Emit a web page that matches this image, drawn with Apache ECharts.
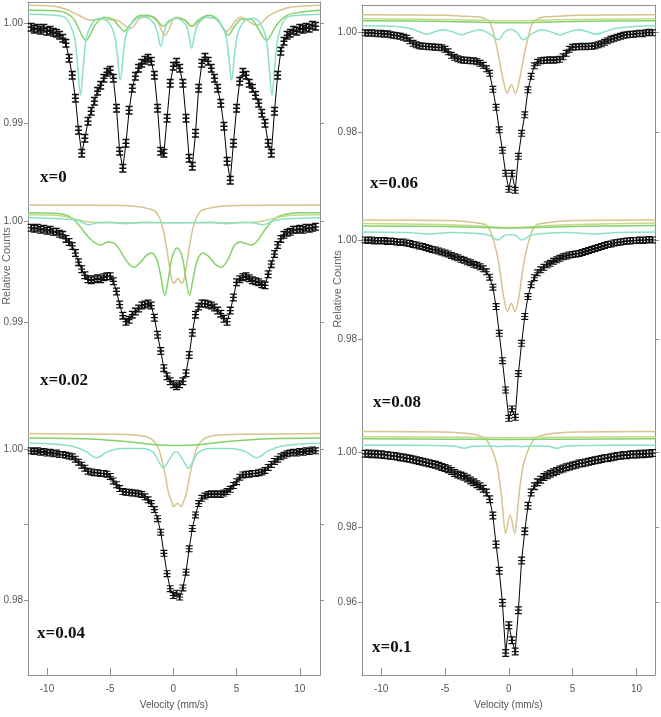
<!DOCTYPE html>
<html>
<head>
<meta charset="utf-8">
<script src="https://cdn.jsdelivr.net/npm/echarts@6/dist/echarts.min.js"></script>
<style>
  html, body { margin: 0; padding: 0; background: #fff; }
  #chart { width: 661px; height: 717px; }
</style>
</head>
<body>
<div id="chart"></div>
<script>
  // velocity channels (mm/s), shared by all six spectra
  const velocity = [-11.25,-11,-10.75,-10.5,-10.25,-10,-9.75,-9.5,-9.25,-9,
    -8.75,-8.5,-8.25,-8,-7.75,-7.5,-7.25,-7,-6.75,-6.5,
    -6.25,-6,-5.75,-5.5,-5.25,-5,-4.75,-4.5,-4.25,-4,
    -3.75,-3.5,-3.25,-3,-2.75,-2.5,-2.25,-2,-1.75,-1.5,
    -1.25,-1,-0.75,-0.5,-0.25,0,0.25,0.5,0.75,1,
    1.25,1.5,1.75,2,2.25,2.5,2.75,3,3.25,3.5,
    3.75,4,4.25,4.5,4.75,5,5.25,5.5,5.75,6,
    6.25,6.5,6.75,7,7.25,7.5,7.75,8,8.25,8.5,
    8.75,9,9.25,9.5,9.75,10,10.25,10.5,10.75,11,11.25];

  // relative counts, measured spectra
  const counts0 = [0.9996,0.9994,0.9995,0.9993,0.9995,0.9992,0.9993,0.9991,0.9990,0.9988,
    0.9985,0.9980,0.9965,0.9948,0.9925,0.9893,0.9870,0.9885,0.9902,0.9912,
    0.9922,0.9932,0.9938,0.9945,0.9951,0.9953,0.9945,0.9915,0.9872,0.9855,
    0.9880,0.9913,0.9935,0.9947,0.9955,0.9960,0.9963,0.9965,0.9962,0.9948,
    0.9915,0.9872,0.9870,0.9905,0.9940,0.9957,0.9961,0.9955,0.9940,0.9905,
    0.9865,0.9857,0.9890,0.9935,0.9960,0.9966,0.9962,0.9955,0.9945,0.9935,
    0.9920,0.9897,0.9862,0.9843,0.9880,0.9915,0.9942,0.9951,0.9948,0.9940,
    0.9935,0.9928,0.9920,0.9910,0.9900,0.9880,0.9870,0.9912,0.9948,0.9972,
    0.9982,0.9988,0.9990,0.9993,0.9992,0.9995,0.9994,0.9996,0.9995,0.9998,0.9997];
  const counts002 = [0.9994,0.9993,0.9994,0.9992,0.9993,0.9991,0.9992,0.9990,0.9990,0.9988,
    0.9987,0.9983,0.9980,0.9976,0.9969,0.9960,0.9953,0.9947,0.9943,0.9942,
    0.9943,0.9944,0.9943,0.9945,0.9946,0.9946,0.9941,0.9931,0.9918,0.9907,
    0.9901,0.9903,0.9908,0.9911,0.9914,0.9917,0.9918,0.9919,0.9917,0.9905,
    0.9888,0.9872,0.9855,0.9847,0.9842,0.9839,0.9837,0.9839,0.9842,0.9850,
    0.9868,0.9890,0.9908,0.9916,0.9919,0.9919,0.9918,0.9917,0.9915,0.9912,
    0.9909,0.9904,0.9901,0.9912,0.9925,0.9940,0.9943,0.9945,0.9946,0.9944,
    0.9942,0.9941,0.9940,0.9938,0.9937,0.9948,0.9958,0.9968,0.9977,0.9983,
    0.9987,0.9989,0.9990,0.9992,0.9992,0.9993,0.9992,0.9994,0.9993,0.9994,0.9995];
  const counts004 = [0.9998,0.9997,0.9998,0.9996,0.9997,0.9995,0.9996,0.9994,0.9995,0.9993,
    0.9993,0.9992,0.9991,0.9990,0.9987,0.9983,0.9979,0.9975,0.9971,0.9970,
    0.9969,0.9969,0.9968,0.9968,0.9967,0.9964,0.9958,0.9953,0.9948,0.9944,
    0.9943,0.9943,0.9942,0.9942,0.9941,0.9940,0.9937,0.9933,0.9928,0.9920,
    0.9908,0.9890,0.9862,0.9835,0.9815,0.9806,0.9809,0.9804,0.9816,0.9837,
    0.9868,0.9895,0.9913,0.9928,0.9935,0.9938,0.9940,0.9941,0.9940,0.9941,
    0.9940,0.9942,0.9944,0.9947,0.9952,0.9957,0.9963,0.9966,0.9967,0.9967,
    0.9968,0.9968,0.9969,0.9970,0.9972,0.9976,0.9980,0.9984,0.9987,0.9990,
    0.9992,0.9994,0.9995,0.9996,0.9995,0.9997,0.9996,0.9998,0.9997,0.9999,0.9998];
  const counts006 = [0.9999,0.9998,0.9999,0.9998,0.9997,0.9998,0.9996,0.9997,0.9995,0.9994,
    0.9993,0.9992,0.9990,0.9988,0.9983,0.9978,0.9975,0.9973,0.9972,0.9972,
    0.9971,0.9971,0.9970,0.9970,0.9969,0.9966,0.9961,0.9954,0.9950,0.9947,
    0.9945,0.9944,0.9944,0.9943,0.9943,0.9941,0.9938,0.9934,0.9927,0.9918,
    0.9886,0.9850,0.9805,0.9764,0.9718,0.9686,0.9718,0.9684,0.9752,0.9798,
    0.9835,0.9885,0.9912,0.9933,0.9940,0.9943,0.9944,0.9944,0.9945,0.9944,
    0.9945,0.9946,0.9951,0.9958,0.9966,0.9970,0.9971,0.9971,0.9972,0.9971,
    0.9972,0.9972,0.9973,0.9975,0.9977,0.9980,0.9983,0.9986,0.9988,0.9990,
    0.9992,0.9994,0.9995,0.9996,0.9996,0.9997,0.9998,0.9997,0.9999,1.0000,0.9999];
  const counts008 = [1.0000,0.9999,1.0000,0.9998,0.9999,0.9998,0.9999,0.9997,0.9998,0.9997,
    0.9996,0.9995,0.9996,0.9994,0.9993,0.9991,0.9990,0.9988,0.9987,0.9985,
    0.9983,0.9981,0.9980,0.9978,0.9976,0.9974,0.9972,0.9969,0.9966,0.9964,
    0.9961,0.9959,0.9956,0.9954,0.9951,0.9949,0.9946,0.9942,0.9936,0.9925,
    0.9905,0.9866,0.9812,0.9757,0.9698,0.9641,0.9660,0.9643,0.9731,0.9792,
    0.9846,0.9886,0.9910,0.9924,0.9934,0.9940,0.9945,0.9950,0.9953,0.9957,
    0.9960,0.9963,0.9966,0.9968,0.9970,0.9971,0.9972,0.9973,0.9975,0.9977,
    0.9979,0.9981,0.9983,0.9985,0.9987,0.9989,0.9991,0.9992,0.9994,0.9995,
    0.9996,0.9997,0.9998,0.9998,0.9999,0.9999,1.0000,0.9999,1.0000,1.0001,1.0000];
  const counts01 = [0.9996,0.9997,0.9995,0.9996,0.9994,0.9995,0.9993,0.9992,0.9991,0.9990,
    0.9989,0.9987,0.9986,0.9984,0.9983,0.9981,0.9979,0.9977,0.9975,0.9973,
    0.9971,0.9969,0.9967,0.9964,0.9961,0.9958,0.9955,0.9950,0.9945,0.9941,
    0.9938,0.9935,0.9930,0.9925,0.9920,0.9915,0.9910,0.9903,0.9893,0.9875,
    0.9832,0.9755,0.9685,0.9600,0.9466,0.9540,0.9500,0.9470,0.9580,0.9712,
    0.9790,0.9858,0.9893,0.9910,0.9920,0.9927,0.9934,0.9939,0.9943,0.9947,
    0.9950,0.9954,0.9957,0.9960,0.9962,0.9965,0.9967,0.9970,0.9971,0.9973,
    0.9975,0.9977,0.9979,0.9980,0.9982,0.9984,0.9985,0.9987,0.9988,0.9990,
    0.9991,0.9993,0.9992,0.9994,0.9995,0.9994,0.9996,0.9995,0.9997,0.9996,0.9998];

  // fitted sub-spectra, [velocity, relative counts]
  const tan0 = [[-11.5,1.0018],[-9.5,1.0017],[-8.5,1.0014],[-7.5,1.0008],[-6.5,1.0003],[-5.8,1.0004],[-4.5,1.0003],
    [-3.4,0.9995],[-2.4,1.0007],[-1.5,1.0006],[-0.66,0.9988],[0.2,1.0006],[0.8,1.0004],[1.45,0.9997],[2.5,1.0006],
    [3.4,1.0004],[4.2,0.9992],[5.3,1.0006],[6.6,0.9998],[7.6,1.0008],[8.9,1.0015],[10,1.0017],[11.6,1.0018]];
  const green0 = [[-11.5,1.0013],[-9,1.0012],[-8,1.0006],[-7.5,0.9995],[-7.2,0.9987],[-6.9,0.9983],[-6.6,0.9988],
    [-6.2,0.9998],[-5.5,1.0006],[-4.8,1.0004],[-4.3,0.9997],[-3.87,0.9992],[-3.45,0.9998],[-2.8,1.0007],[-2,1.0008],
    [-1.3,1.0003],[-0.8,0.9997],[-0.3,1.0003],[0.3,1.0005],[0.95,1.0003],[1.45,0.9997],[1.95,1.0003],[2.8,1.0008],
    [3.5,1.0004],[3.95,0.9995],[4.35,0.9988],[4.75,0.9995],[5.4,1.0004],[6.1,1.0004],[6.7,0.9995],[7.05,0.9987],
    [7.37,0.9983],[7.7,0.9988],[8.2,0.9999],[9,1.0008],[10,1.0011],[11.6,1.0013]];
  const cyan0 = [[-11.5,1.0009],[-9.5,1.0008],[-8.5,1.0005],[-7.85,0.9987],[-7.6,0.9961],[-7.35,0.9928],[-7.1,0.9961],
    [-6.85,0.9987],[-6.3,1.0002],[-5.8,1.0005],[-5.2,1.0002],[-4.7,0.9990],[-4.45,0.9970],[-4.2,0.9943],[-3.95,0.9970],
    [-3.7,0.9990],[-3,1.0004],[-2.2,1.0006],[-1.5,0.9999],[-1.25,0.9990],[-1,0.9977],[-0.75,0.9990],[-0.5,0.9999],
    [0.22,1.0005],[0.95,0.9999],[1.2,0.9990],[1.45,0.9975],[1.7,0.9990],[1.95,0.9999],[2.6,1.0006],[3.4,1.0004],
    [4.1,0.9990],[4.35,0.9970],[4.6,0.9943],[4.85,0.9970],[5.1,0.9990],[5.6,1.0002],[6.2,1.0005],[6.75,1.0002],
    [7.3,0.9987],[7.55,0.9961],[7.8,0.9928],[8.05,0.9961],[8.3,0.9987],[8.9,1.0005],[10,1.0008],[11.6,1.0009]];

  const tan002 = [[-11.5,1.00165],[-4,1.0016],[-2.9,1.0015],[-2,1.0013],[-1.5,1.0011],[-1.1,1.0004],[-0.8,0.9992],
    [-0.55,0.9975],[-0.3,0.9955],[-0.1,0.9942],[0.06,0.9939],[0.36,0.9944],[0.66,0.9939],[0.82,0.9942],[1.02,0.9955],
    [1.27,0.9975],[1.52,0.9992],[1.82,1.0004],[2.2,1.0011],[2.7,1.0013],[3.6,1.0015],[5,1.0016],[11.6,1.00165]];
  const green002 = [[-11.5,1.0009],[-9,1.0008],[-8.2,1.0005],[-7.5,0.9997],[-6.8,0.9986],[-6.2,0.9979],[-5.7,0.9977],
    [-5.2,0.9980],[-4.6,0.9978],[-4,0.9967],[-3.5,0.9958],[-3.1,0.9955],[-2.6,0.9960],[-2.1,0.9967],[-1.7,0.9969],
    [-1.3,0.9962],[-0.95,0.9943],[-0.68,0.9927],[-0.4,0.9943],[-0.1,0.9965],[0.3,0.9974],[0.7,0.9965],[1,0.9943],
    [1.27,0.9927],[1.55,0.9943],[1.9,0.9962],[2.35,0.9969],[2.85,0.9965],[3.3,0.9958],[3.78,0.9955],[4.3,0.9962],
    [4.8,0.9976],[5.3,0.9980],[5.8,0.9978],[6.2,0.9977],[6.7,0.9982],[7.3,0.9993],[8,1.0003],[8.7,1.0007],[10,1.0009],[11.6,1.0009]];
  const olive002 = [[-11.5,1.0007],[-9,1.0006],[-7.5,1.0002],[-6.5,0.99995],[-4,0.9999],[0,0.9999],[4,0.9999],
    [6.5,0.99995],[7.5,1.0002],[9,1.0006],[11.6,1.0007]];
  const cyan002 = [[-11.5,1.0004],[-9,1.0003],[-7.5,1.0001],[-6.7,0.9997],[-6,0.9999],[-5,0.99995],[-3.8,0.9998],
    [-2.5,0.99995],[0.3,0.9999],[3,0.99995],[4.2,0.9998],[5.5,0.99995],[6.3,0.9999],[7.1,0.9997],[7.9,1.0001],
    [9,1.0003],[11.6,1.0004]];

  const tan004 = [[-11.5,1.0021],[-5,1.0020],[-3,1.0019],[-2,1.0016],[-1.5,1.0010],[-1.2,1.0002],[-0.9,0.9985],
    [-0.6,0.9962],[-0.35,0.9940],[-0.1,0.9929],[0,0.9924],[0.33,0.9928],[0.66,0.9924],[0.76,0.9929],[1.01,0.9940],
    [1.26,0.9962],[1.56,0.9985],[1.86,1.0002],[2.16,1.0010],[2.66,1.0016],[3.7,1.0019],[6,1.0020],[11.6,1.0021]];
  const green004 = [[-11.5,1.0015],[-7,1.0014],[-5,1.0012],[-3,1.0009],[-1.5,1.0006],[0.3,1.0005],[2,1.0006],
    [3.5,1.0009],[5.5,1.0012],[7.5,1.0014],[11.6,1.0015]];
  const cyan004 = [[-11.5,1.0008],[-9.5,1.0007],[-8,1.0004],[-7,0.9998],[-6.05,0.9989],[-5.2,0.9997],[-4,1.0001],
    [-2.5,1.0001],[-1.6,0.9996],[-1.1,0.9982],[-0.79,0.9975],[-0.45,0.9983],[0.2,0.9997],[0.85,0.9983],[1.18,0.9975],
    [1.5,0.9982],[2,0.9996],[3,1.0001],[4.5,1.0001],[5.7,0.9997],[6.6,0.9989],[7.5,0.9998],[8.5,1.0004],[10,1.0007],[11.6,1.0008]];

  const tan006 = [[-11.5,1.0035],[-5,1.0034],[-3.4,1.0032],[-2.2,1.0030],[-1.8,1.0026],[-1.5,1.0021],[-1.2,0.9998],
    [-0.84,0.9958],[-0.6,0.9925],[-0.4,0.9900],[-0.13,0.9878],[0.2,0.9895],[0.52,0.9878],[0.79,0.9900],[0.99,0.9925],
    [1.23,0.9958],[1.59,0.9998],[1.89,1.0021],[2.19,1.0026],[2.6,1.0030],[3.8,1.0032],[5.4,1.0034],[11.5,1.0035]];
  const olive006 = [[-11.5,1.0027],[-4,1.0025],[0.2,1.0023],[4,1.0025],[11.5,1.0027]];
  const green006 = [[-11.5,1.0023],[-6,1.0022],[-2,1.0020],[0.2,1.0019],[2.5,1.0020],[6,1.0022],[11.5,1.0023]];
  const cyan006 = [[-11.5,1.0013],[-9,1.0012],[-7.8,1.0008],[-7,1.0001],[-6.44,0.9996],[-5.8,1.0001],[-5.1,1.0005],
    [-4.3,1.0000],[-3.7,0.9995],[-3.1,1.0000],[-2.3,1.0005],[-1.5,0.9997],[-0.84,0.9985],[-0.35,1.0000],[0.14,1.0006],
    [0.63,1.0000],[1.12,0.9985],[1.8,0.9997],[2.6,1.0005],[3.4,1.0000],[4,0.9995],[4.6,1.0000],[5.4,1.0005],
    [6.2,1.0001],[6.8,0.9996],[7.5,1.0001],[8.4,1.0008],[10,1.0012],[11.5,1.0013]];

  const tan008 = [[-11.5,1.0040],[-5,1.0039],[-3.4,1.0037],[-2.2,1.0033],[-1.75,1.0030],[-1.4,1.0015],[-1.1,0.9990],
    [-0.84,0.9960],[-0.6,0.9920],[-0.4,0.9885],[-0.1,0.9856],[0.19,0.9872],[0.47,0.9856],[0.78,0.9885],[0.98,0.9920],
    [1.22,0.9960],[1.48,0.9990],[1.78,1.0015],[2.13,1.0030],[2.6,1.0033],[3.8,1.0037],[5.4,1.0039],[11.5,1.0040]];
  const olive008 = [[-11.5,1.0033],[-4,1.0030],[0.2,1.0025],[4,1.0030],[11.5,1.0034]];
  const green008 = [[-11.5,1.0028],[-5,1.0027],[0.2,1.0024],[5,1.0027],[11.5,1.0029]];
  const cyan008 = [[-11.5,1.0016],[-8,1.0015],[-6.3,1.0012],[-4.5,1.0015],[-2.5,1.0013],[-1.5,1.0009],[-0.84,1.0000],
    [-0.4,1.0008],[0.1,1.0011],[0.6,1.0008],[1,1.0000],[1.7,1.0009],[2.7,1.0013],[4.7,1.0015],[6.7,1.0012],
    [8.5,1.0015],[11.5,1.0016]];

  const tan01 = [[-11.5,1.0055],[-5,1.0054],[-3.2,1.0050],[-2.2,1.0043],[-1.75,1.0033],[-1.35,1.0010],[-0.96,0.9971],
    [-0.75,0.9930],[-0.57,0.9882],[-0.4,0.9820],[-0.26,0.9785],[0.1,0.9833],[0.47,0.9785],[0.61,0.9820],[0.78,0.9882],
    [0.96,0.9930],[1.17,0.9971],[1.56,1.0010],[1.96,1.0033],[2.4,1.0043],[3.4,1.0050],[5.2,1.0054],[11.5,1.0055]];
  const olive01 = [[-11.5,1.0041],[-4,1.0040],[0.1,1.0039],[4,1.0040],[11.5,1.0041]];
  const green01 = [[-11.5,1.0036],[-5,1.0035],[0.1,1.0034],[5,1.0035],[11.5,1.0036]];
  const cyan01 = [[-11.5,1.0019],[-6,1.0018],[-4.2,1.0016],[-3.5,1.0011],[-2.8,1.0016],[-1.5,1.0017],[-0.8,1.0015],
    [0.1,1.0017],[1,1.0015],[1.8,1.0017],[3.1,1.0016],[3.75,1.0011],[4.4,1.0016],[6.3,1.0018],[11.5,1.0019]];

  const colors = {tan: '#d9c38e', olive: '#c4da8a', green: '#84d26a', cyan: '#8ae2c8'};
  const axisColor = '#8a9099';
  const labelFont = 'Liberation Sans Narrow, Liberation Sans, sans-serif';

  const panels = [
    {label: 'x=0', counts: counts0, comps: [['tan', tan0], ['green', green0], ['cyan', cyan0]],
      box: [28, 2, 292, 195], xr: [-11.5, 11.6], yr: [0.98263, 1.00213], ticks: [0.99, 1.00], labels: [0.99, 1.00],
      bar: [7, 9], top: true, text: [40, 169]},
    {label: 'x=0.02', counts: counts002, comps: [['tan', tan002], ['green', green002], ['olive', olive002], ['cyan', cyan002]],
      box: [28, 197, 292, 228], xr: [-11.5, 11.6], yr: [0.97987, 1.00245], ticks: [0.99, 1.00], labels: [0.99, 1.00],
      bar: [7, 8], text: [40, 372]},
    {label: 'x=0.04', counts: counts004, comps: [['tan', tan004], ['green', green004], ['cyan', cyan004]],
      box: [28, 425, 292, 250], xr: [-11.5, 11.6], yr: [0.97005, 1.00323], ticks: [0.98, 0.99, 1.00], labels: [0.98, 1.00],
      bar: [7, 7], bottom: true, text: [37, 625]},
    {label: 'x=0.06', counts: counts006, comps: [['tan', tan006], ['olive', olive006], ['green', green006], ['cyan', cyan006]],
      box: [362, 5, 293, 210], xr: [-11.5, 11.45], yr: [0.96346, 1.00546], ticks: [0.98, 1.00], labels: [0.98, 1.00],
      bar: [7, 7], top: true, text: [370, 175]},
    {label: 'x=0.08', counts: counts008, comps: [['tan', tan008], ['olive', olive008], ['green', green008], ['cyan', cyan008]],
      box: [362, 215, 293, 213], xr: [-11.5, 11.45], yr: [0.96215, 1.00503], ticks: [0.98, 1.00], labels: [0.98, 1.00],
      bar: [7, 7], text: [373, 394]},
    {label: 'x=0.1', counts: counts01, comps: [['tan', tan01], ['olive', olive01], ['green', green01], ['cyan', cyan01]],
      box: [362, 428, 293, 247], xr: [-11.5, 11.45], yr: [0.94077, 1.00646], ticks: [0.96, 0.98, 1.00], labels: [0.96, 0.98, 1.00],
      bar: [7, 8], bottom: true, text: [372, 639]}
  ];

  // error bar marker: vertical bar with caps and a centre cross
  const errBar = 'path://M0 0H6V1.6H0Z M2.2 0H3.8V10H2.2Z M0 8.4H6V10H0Z M0 4.2H6V5.8H0Z';

  const grid = [], xAxis = [], yAxis = [], series = [], graphic = [];

  panels.forEach(function (p, i) {
    grid.push({left: p.box[0], top: p.box[1], width: p.box[2], height: p.box[3], outerBoundsMode: 'none'});
    const xi = xAxis.length;
    xAxis.push({
      gridIndex: i, type: 'value', min: p.xr[0], max: p.xr[1], position: 'bottom', show: !!p.bottom,
      axisLine: {show: true, onZero: false, lineStyle: {color: axisColor, width: 1}},
      axisTick: {show: true, inside: true, length: 7, customValues: [-10, -5, 0, 5, 10], lineStyle: {color: axisColor}},
      axisLabel: {customValues: [-10, -5, 0, 5, 10], margin: 9, fontSize: 10, color: '#555', fontFamily: labelFont},
      splitLine: {show: false},
      name: 'Velocity (mm/s)', nameLocation: 'middle', nameGap: 25,
      nameTextStyle: {fontSize: 10, color: '#555', fontFamily: labelFont}
    });
    if (p.top) {
      xAxis.push({
        gridIndex: i, type: 'value', min: p.xr[0], max: p.xr[1], position: 'top',
        axisLine: {show: true, onZero: false, lineStyle: {color: axisColor}}, axisTick: {show: false},
        axisLabel: {show: false}, splitLine: {show: false}
      });
    }
    const yi = yAxis.length;
    yAxis.push({
      gridIndex: i, type: 'value', min: p.yr[0], max: p.yr[1], position: 'left',
      axisLine: {show: true, onZero: false, lineStyle: {color: axisColor}},
      axisTick: {show: true, length: 4, customValues: p.ticks, lineStyle: {color: axisColor}},
      axisLabel: {customValues: p.labels, margin: 5, fontSize: 10, color: '#555', fontFamily: labelFont,
        formatter: function (v) { return v.toFixed(2); }},
      splitLine: {show: false}
    });
    yAxis.push({
      gridIndex: i, type: 'value', min: p.yr[0], max: p.yr[1], position: 'right',
      axisLine: {show: true, onZero: false, lineStyle: {color: axisColor}},
      axisTick: {show: true, length: 4, customValues: p.ticks, lineStyle: {color: axisColor}},
      axisLabel: {show: false}, splitLine: {show: false}
    });

    p.comps.forEach(function (c) {
      series.push({
        type: 'line', xAxisIndex: xi, yAxisIndex: yi, data: c[1], smooth: 0.35, showSymbol: false,
        lineStyle: {color: colors[c[0]], width: 1.5}, z: 2, silent: true
      });
    });
    series.push({
      type: 'line', xAxisIndex: xi, yAxisIndex: yi,
      data: velocity.map(function (v, k) { return [v, p.counts[k]]; }),
      symbol: errBar, symbolSize: p.bar, showSymbol: true,
      itemStyle: {color: '#111'}, lineStyle: {color: '#000', width: 1}, z: 3, silent: true
    });

    graphic.push({type: 'text', x: p.text[0], y: p.text[1],
      style: {text: p.label, fontSize: 17, fontWeight: 'bold', fontFamily: 'Liberation Serif', fill: '#111', verticalAlign: 'top'}});
  });

  graphic.push({type: 'text', x: 7, y: 266, rotation: Math.PI / 2,
    style: {text: 'Relative Counts', fontSize: 11, fontFamily: labelFont, fill: '#666', align: 'center', verticalAlign: 'middle'}});
  graphic.push({type: 'text', x: 338, y: 289, rotation: Math.PI / 2,
    style: {text: 'Relative Counts', fontSize: 11, fontFamily: labelFont, fill: '#666', align: 'center', verticalAlign: 'middle'}});

  const chart = echarts.init(document.getElementById('chart'));
  chart.setOption({
    animation: false,
    grid: grid,
    xAxis: xAxis,
    yAxis: yAxis,
    series: series,
    graphic: graphic
  });
</script>
</body>
</html>
